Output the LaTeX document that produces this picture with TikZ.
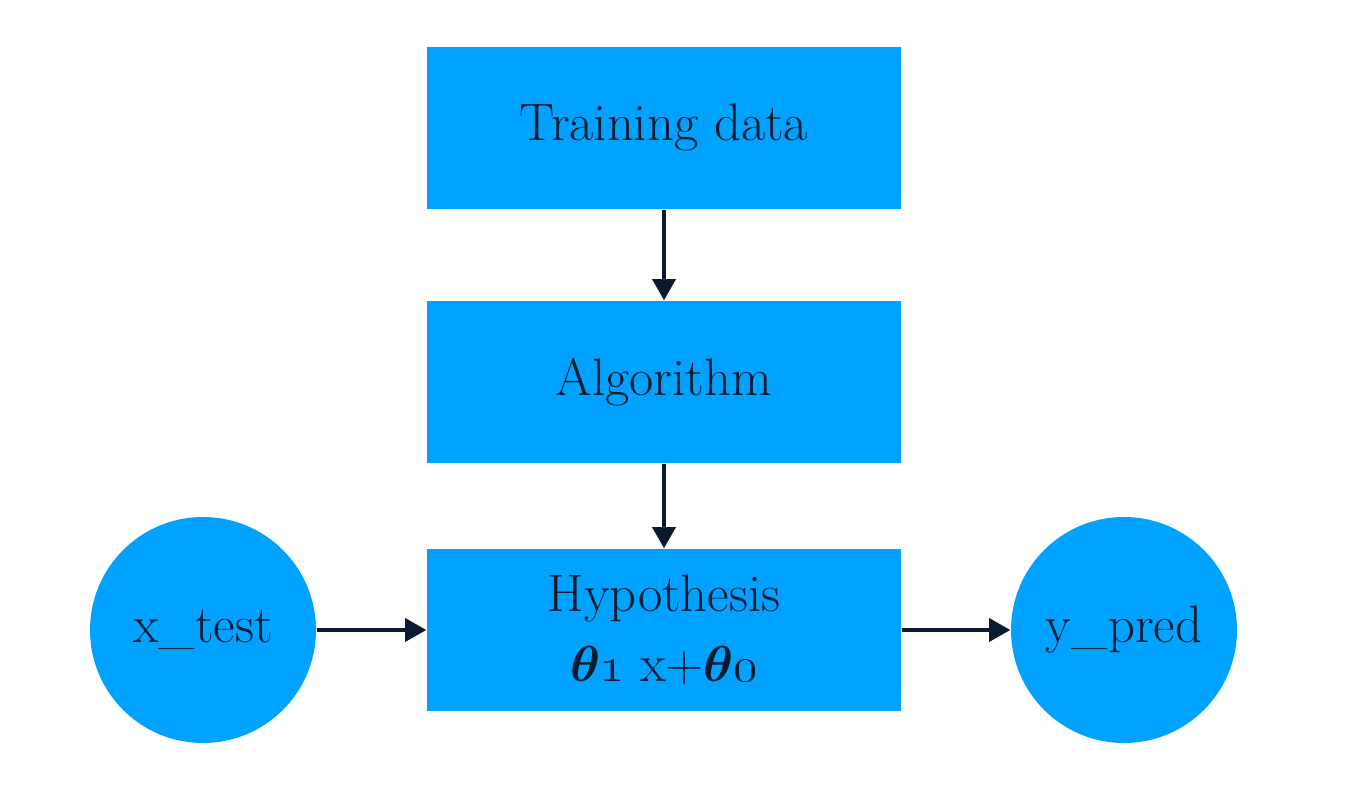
\documentclass[tikz,border=0pt]{standalone}
\usepackage{amsmath}
\usetikzlibrary{arrows.meta}
\definecolor{boxblue}{HTML}{00A2FF}
\definecolor{ink}{HTML}{0B1A2E}

\tikzset{
    stage/.style={fill=boxblue, minimum width=4.74cm, minimum height=1.62cm, align=center, font=\fontsize{15}{18}\selectfont, text=ink},
    term/.style={circle, fill=boxblue, minimum size=2.26cm, font=\fontsize{15}{18}\selectfont, text=ink},
    flow/.style={ink, line width=1.1pt, -{Triangle[length=6pt,width=6.5pt]}}
}

\begin{document}
\begin{tikzpicture}
    \useasboundingbox (0, 0) rectangle (13.48, -7.98);

    % Draw the stages
    \node[stage] (train) at (6.64, -1.28) {Training data};
    \node[stage] (algo) at (6.64, -3.82) {Algorithm};
    \node[stage] (hyp) at (6.64, -6.30) {Hypothesis\\[2pt]$\boldsymbol{\theta}$\oldstylenums{1} x+$\boldsymbol{\theta}$\oldstylenums{0}};

    % Input and output
    \node[term] (xtest) at (2.03, -6.30) {x\_test};
    \node[term] (ypred) at (11.24, -6.30) {y\_pred};

    % Arrows
    \draw[flow] (train) -- (algo);
    \draw[flow] (algo) -- (hyp);
    \draw[flow] (xtest) -- (hyp);
    \draw[flow] (hyp) -- (ypred);
\end{tikzpicture}
\end{document}
